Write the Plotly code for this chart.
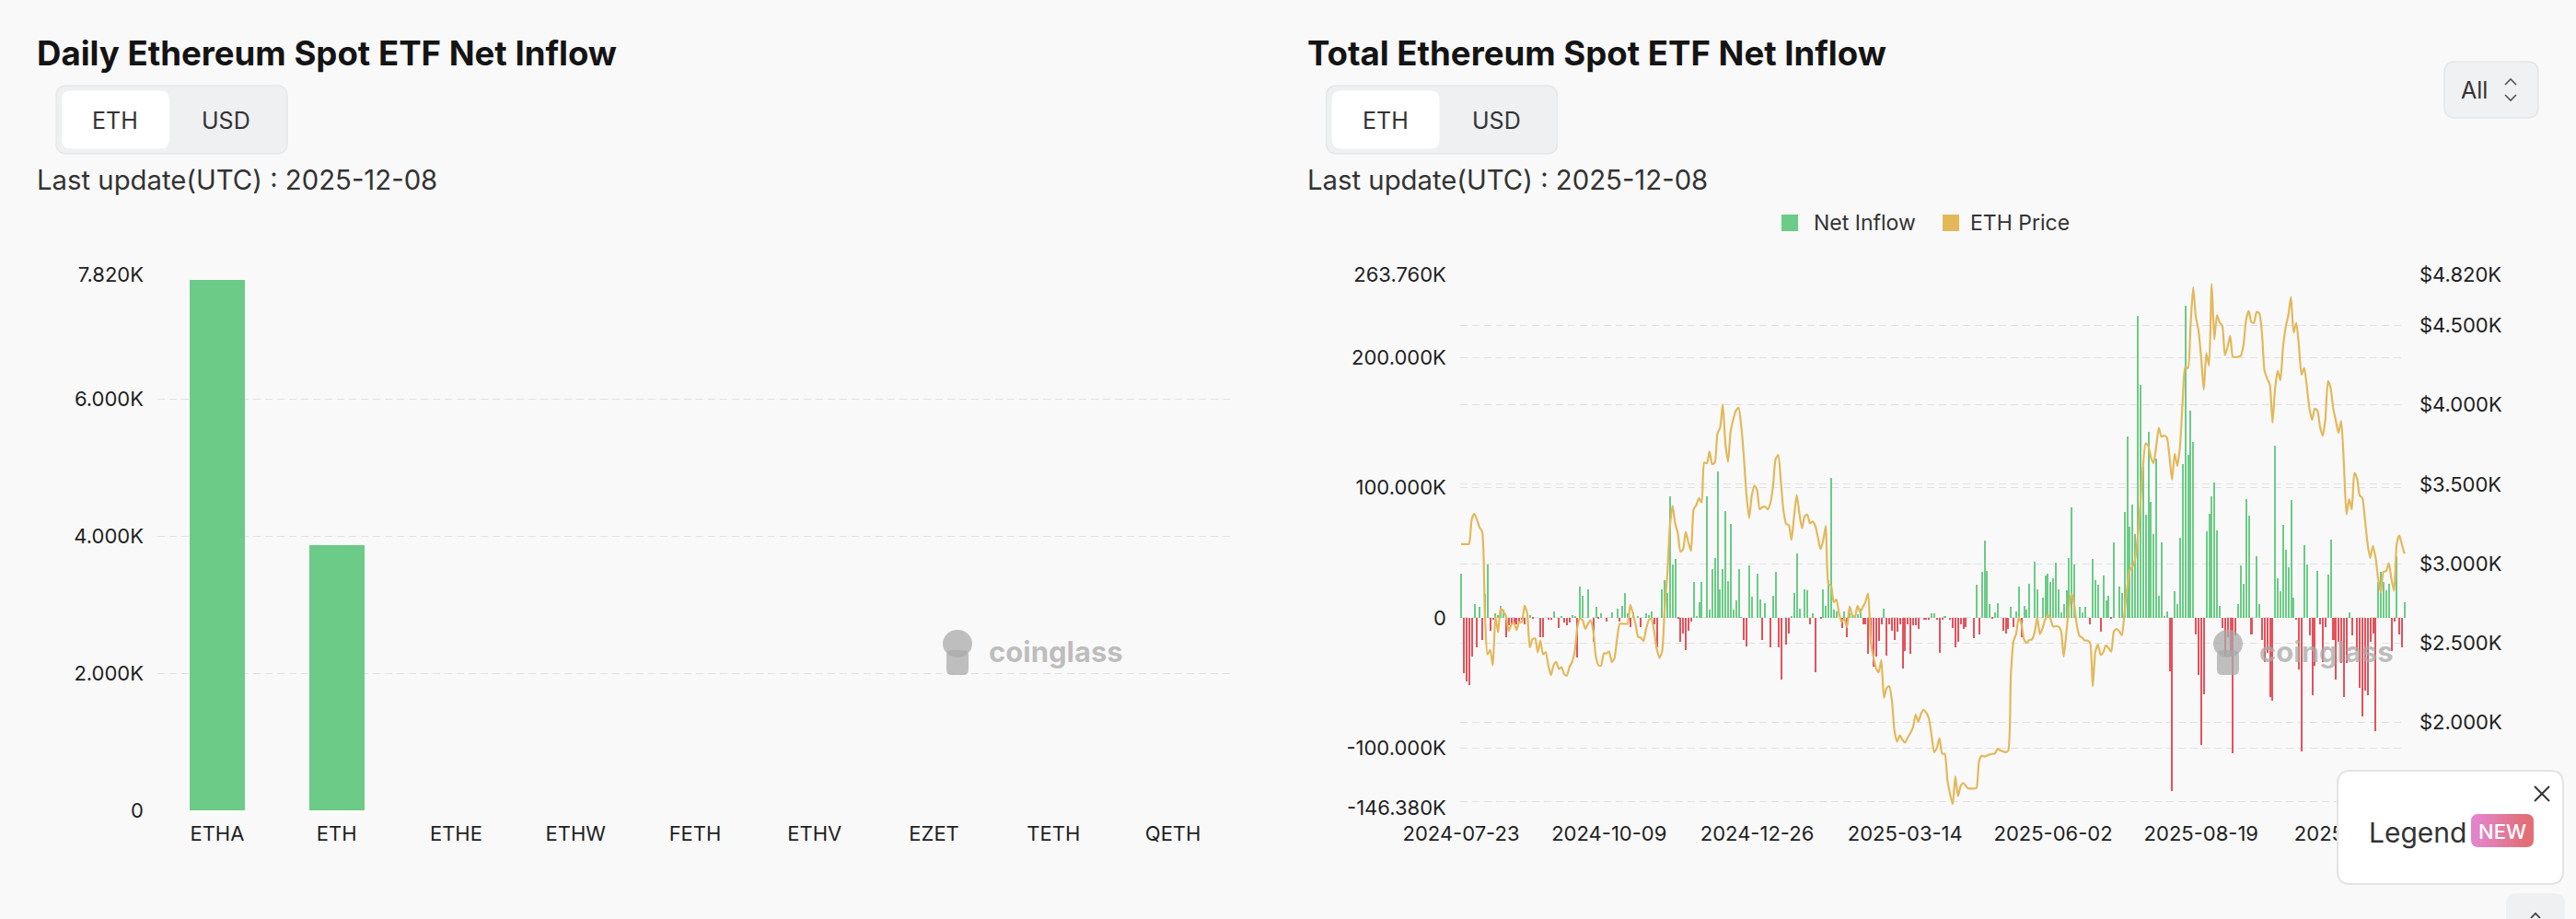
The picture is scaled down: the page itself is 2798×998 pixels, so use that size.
import plotly.graph_objects as go
import pandas as pd

W, H = 2798, 998

def X(px):
    return px / W

def Y(py):
    return 1 - py / H

# ---------------- data ----------------
etf_tickers = ["ETHA", "ETH", "ETHE", "ETHW", "FETH", "ETHV", "EZET", "TETH", "QETH"]
daily_inflow_eth = [7743, 3871, 0, 0, 0, 0, 0, 0, 0]
daily_tickvals = [0, 2000, 4000, 6000, 7820]
daily_ticktext = ["0", "2.000K", "4.000K", "6.000K", "7.820K"]

# total net inflow per trading day, thousands of ETH
net_inflow_keth = [
    34, -43, -49, -52, -30, 10, -23, 8, -17, 18,
    41, -10, -2, 3, 2, 9, 6, -15, -6, -5,
    -5, -5, -3, -2, -5, 0, 2, -0.5, 0, 0,
    -15, -15, 0, -2, -2, 5, 0, -8, 1, -4,
    -6, -4, 2, 1, -31, 24, 17, 0, 22, 0,
    -19, 8, -1, 3, 0, -3, 0, 4, 0, 7,
    -3, 9, 19, 3, -7, 4, 0, 1, -7, 0,
    3, 2, 5, -5, -23, 0, 22, 29, 19, 93,
    41, 45, -1, -19, -12, -25, -10, -3, 27, 0.5,
    12, 27, 0, 93, 6, 37, 46, 112, 22, 37,
    82, 28, 72, 6, 13, 37, 0.3, -17, -22, 40,
    16, 0, 34, 14, -17, 11, 0, -23, 17, 35,
    -23, -48, 0, -21, -12, 0.5, 19, 49, 7, 0,
    22, 21, -5, 3, -42, 0, -1, 22, 9, 29,
    107, 6, 5, 0, -8, 5, -15, 3, 2, 2,
    2.5, 7, -5, -5, -28, -19, -38, -30, -18, -5,
    7, -29, -5, -10, -17, -11, -5, -39, -26, -5,
    -28, -6, -6, -9, 0, -2, -2, -1.5, 3, 3.5,
    -2, -27, -2, 1, 0, -2, -8, -23, -19, -5,
    -9, -7, 0, 0, -16, 25, -13, 35, 59, 36,
    10, -1, 4, 11, 0, -10, -12, -9, 8, -7,
    5, 24, -15, 9, 6, 26, 0, 43, 22, 0,
    15, 32, 34, 27, 30, 42, 22, 4, 10, 21,
    46, 85, 41, 0, 8, 4, 8, 0, -5, 45,
    29, 25, -11, 32, 13, 17, -1, 58, 0, 24,
    19, 81, 139, 70, 87, 64, 232, 179, 116, 79,
    143, 89, 64, 122, 17, 58, 1, 5, -41, -133.07,
    20, 10, 61, 118, 239.78, 125, 159, 135, -13, -44,
    -98, -59, 66, 80, 93, 104, 67, 9, -8, -30,
    -15, -30, -104, -14, 10, 40, 26, 91, 78, -13,
    0, 47, 10, -17, -34, -27, -61, -64, 132, 30,
    20, 71, 52, 39, 90, 15, -2, -40, -103, 56,
    41, -14, -60, -37, 36, -5, -34, -7, 33, 60,
    -17, -48, -19, -35, -61, -35, 4, -14, 0, -26,
    -54, -76, -56, -60, -19, -12, -87, 27, 35, 27,
    21, 26, -26, -3, 47, -13, -23, 12,
]

# ETH price (USD) per trading day
eth_price_usd = [
    3124, 3124, 3124, 3124, 3277, 3316, 3277, 3229, 3201, 2688,
    2430, 2458, 2360, 2666, 2568, 2720, 2699, 2670, 2578, 2616,
    2627, 2583, 2633, 2633, 2736, 2688, 2474, 2524, 2530, 2443,
    2517, 2430, 2443, 2360, 2299, 2360, 2382, 2338, 2349, 2305,
    2295, 2349, 2382, 2447, 2600, 2655, 2644, 2589, 2622, 2644,
    2578, 2415, 2360, 2360, 2436, 2436, 2447, 2382, 2404, 2524,
    2622, 2622, 2622, 2622, 2742, 2688, 2622, 2539, 2535, 2513,
    2589, 2644, 2655, 2578, 2469, 2408, 2443, 2709, 2928, 3234,
    3364, 3255, 3194, 3076, 3092, 3201, 3135, 3081, 3343, 3369,
    3412, 3386, 3637, 3633, 3707, 3626, 3637, 3819, 3856, 4004,
    3758, 3642, 3834, 3910, 3965, 3982, 3867, 3670, 3430, 3288,
    3430, 3491, 3463, 3343, 3356, 3360, 3343, 3380, 3485, 3659,
    3685, 3517, 3332, 3251, 3244, 3150, 3299, 3434, 3316, 3223,
    3299, 3310, 3255, 3266, 3238, 3168, 3092, 3146, 3238, 2873,
    2862, 2758, 2775, 2688, 2633, 2655, 2600, 2731, 2677, 2666,
    2736, 2694, 2727, 2760, 2814, 2513, 2415, 2343, 2317, 2393,
    2157, 2218, 2229, 2142, 1945, 1880, 1919, 1891, 1875, 1906,
    1934, 1971, 2050, 2006, 2055, 2081, 2063, 2026, 1923, 1814,
    1840, 1902, 1805, 1803, 1640, 1552, 1487, 1661, 1537, 1600,
    1620, 1600, 1585, 1585, 1585, 1589, 1760, 1792, 1786, 1792,
    1799, 1803, 1805, 1836, 1825, 1819, 1814, 1823, 2295, 2513,
    2557, 2661, 2622, 2524, 2502, 2520, 2524, 2568, 2661, 2557,
    2594, 2648, 2679, 2655, 2605, 2607, 2605, 2578, 2415, 2561,
    2731, 2814, 2742, 2611, 2546, 2535, 2517, 2517, 2502, 2229,
    2447, 2491, 2426, 2443, 2487, 2469, 2447, 2574, 2589, 2576,
    2548, 2688, 2845, 2958, 2980, 3026, 3168, 3375, 3609, 3758,
    3742, 3670, 3633, 3736, 3856, 3801, 3806, 3797, 3681, 3528,
    3692, 3616, 3736, 4018, 4238, 4231, 4500, 4740, 4554, 4469,
    4303, 4096, 4325, 4249, 4762, 4412, 4565, 4520, 4500, 4314,
    4364, 4434, 4303, 4301, 4303, 4310, 4373, 4533, 4592, 4522,
    4517, 4585, 4578, 4456, 4216, 4166, 4129, 3889, 4107, 4216,
    4155, 4364, 4489, 4565, 4681, 4456, 4517, 4373, 4190, 4233,
    4118, 3976, 3906, 3976, 3965, 3862, 3806, 3910, 4150, 4107,
    3976, 3899, 3823, 3899, 3637, 3310, 3408, 3343, 3572, 3539,
    3430, 3415, 3277, 3124, 3037, 3113, 3041, 2906, 2819, 2950,
    2954, 3004, 2906, 2830, 3124, 3179, 3120, 3063,
]

first_trading_day = "2024-07-23"
date_tick_labels = ["2024-07-23", "2024-10-09", "2024-12-26", "2025-03-14",
                    "2025-06-02", "2025-08-19", "2025-11-05"]
inflow_tickvals = [-146380, -100000, 0, 100000, 200000, 263760]
inflow_ticktext = ["-146.380K", "-100.000K", "0", "100.000K", "200.000K", "263.760K"]
price_tickvals = [1500, 2000, 2500, 3000, 3500, 4000, 4500, 4820]
price_ticktext = ["$1.500K", "$2.000K", "$2.500K", "$3.000K", "$3.500K",
                  "$4.000K", "$4.500K", "$4.820K"]

# ---------------- styling ----------------
BG = "#f9f9f9"
GREEN = "#6ccb86"
RED = "#e4525c"
GOLD = "#e3b85a"
GRID = "#e1e1e1"
TXT = "#333333"
TICK = "#1f1f1f"
FONT = "Inter"

dates = pd.bdate_range(first_trading_day, periods=len(net_inflow_keth)).strftime("%Y-%m-%d").tolist()
net_inflow_eth = [v * 1000 for v in net_inflow_keth]
bar_colors = [GREEN if v >= 0 else RED for v in net_inflow_eth]

fig = go.Figure()
fig.add_trace(go.Bar(x=etf_tickers, y=daily_inflow_eth, marker_color=GREEN,
                     marker_line_width=0, width=0.46, xaxis="x", yaxis="y",
                     name="Daily"))
fig.add_trace(go.Bar(x=dates, y=net_inflow_eth, marker_color=bar_colors,
                     marker_line_width=0, width=0.7, xaxis="x2", yaxis="y2",
                     name="Net Inflow"))
fig.add_trace(go.Scatter(x=dates, y=eth_price_usd, mode="lines",
                         line=dict(color=GOLD, width=2.2, shape="spline", smoothing=0.6),
                         xaxis="x2", yaxis="y3", name="ETH Price"))

tickfont = dict(family=FONT, size=22, color=TICK)
grid = dict(showgrid=True, gridcolor=GRID, gridwidth=1.3, griddash="8px,5px",
            zeroline=False, showline=False, ticks="", automargin=False)
nogrid = dict(showgrid=False, zeroline=False, showline=False, ticks="", automargin=False)

fig.update_layout(
    template="none",
    width=W, height=H, margin=dict(l=0, r=0, t=0, b=0, pad=0), autosize=False,
    paper_bgcolor=BG, plot_bgcolor=BG, showlegend=False, bargap=0,
    font=dict(family=FONT, color=TXT),
    xaxis=dict(domain=[X(171), X(1339)], anchor="y", type="category",
               tickfont=tickfont, ticklabelstandoff=10, **nogrid),
    yaxis=dict(domain=[Y(880), Y(298.3)], anchor="x", range=[0, 7820],
               tickvals=daily_tickvals, ticktext=daily_ticktext,
               tickfont=tickfont, ticklabelstandoff=14, **grid),
    xaxis2=dict(domain=[X(1585.85), X(2613.0)], anchor="y2", type="category",
                range=[-0.4, len(dates) - 0.6],
                tickvals=date_tick_labels, ticktext=date_tick_labels,
                tickfont=tickfont, ticklabelstandoff=12, tickangle=0, **nogrid),
    yaxis2=dict(domain=[Y(877.7), Y(298.3)], anchor="x2", range=[-146380, 263760],
                tickvals=inflow_tickvals, ticktext=inflow_ticktext,
                tickfont=tickfont, ticklabelstandoff=14, **grid),
    yaxis3=dict(overlaying="y2", side="right", anchor="x2", range=[1461, 4820],
                tickvals=price_tickvals, ticktext=price_ticktext,
                tickfont=tickfont, ticklabelstandoff=14, **grid),
)

shapes = []
annotations = []


def rrect(x0, y0, x1, y1, r, fill, line_color=None, lw=0, layer="above"):
    pts = [
        ("M", [(x0 + r, y0)]), ("L", [(x1 - r, y0)]), ("Q", [(x1, y0), (x1, y0 + r)]),
        ("L", [(x1, y1 - r)]), ("Q", [(x1, y1), (x1 - r, y1)]), ("L", [(x0 + r, y1)]),
        ("Q", [(x0, y1), (x0, y1 - r)]), ("L", [(x0, y0 + r)]), ("Q", [(x0, y0), (x0 + r, y0)]),
    ]
    path = " ".join(cmd + " " + " ".join(f"{X(a):.6f},{Y(b):.6f}" for a, b in p) for cmd, p in pts) + " Z"
    shapes.append(dict(type="path", path=path, xref="paper", yref="paper",
                       fillcolor=fill, line=dict(color=line_color or fill, width=lw),
                       layer=layer))


def polyline(points, color, width):
    path = "M " + " L ".join(f"{X(a):.6f},{Y(b):.6f}" for a, b in points)
    shapes.append(dict(type="path", path=path, xref="paper", yref="paper",
                       line=dict(color=color, width=width), layer="above"))


def box(x0, y0, x1, y1, fill):
    shapes.append(dict(type="rect", x0=X(x0), x1=X(x1), y0=Y(y1), y1=Y(y0),
                       xref="paper", yref="paper", fillcolor=fill,
                       line=dict(width=0), layer="above"))


def text(x, y, s, size, color=TXT, xanchor="left", weight=400, family=FONT):
    annotations.append(dict(x=X(x), y=Y(y), xref="paper", yref="paper", text=s,
                            showarrow=False, xanchor=xanchor, yanchor="middle",
                            font=dict(family=family, size=size, color=color, weight=weight)))


# headers of both panels
for x0, title in [(40, "Daily Ethereum Spot ETF Net Inflow"),
                  (1419.6, "Total Ethereum Spot ETF Net Inflow")]:
    text(x0 - 2, 58, title, 36.6, "#141414", weight=700)
    rrect(x0 + 21, 93, x0 + 272, 167, 12, "#eef0f2", "#e5e7ea", 1.5)
    rrect(x0 + 27, 98.5, x0 + 144, 161.5, 10, "#ffffff")
    text(x0 + 85, 131, "ETH", 25, xanchor="center")
    text(x0 + 206, 131, "USD", 25, xanchor="center")
    text(x0 - 2, 195, "Last update(UTC) : 2025-12-08", 29.3)

# "All" selector
rrect(2655, 67, 2757, 128, 12, "#f0f1f3", "#e3e5e8", 1.5)
text(2671, 98, "All", 25)
polyline([(2721, 92), (2727, 86), (2733, 92)], "#555555", 1.6)
polyline([(2721, 103), (2727, 109), (2733, 103)], "#555555", 1.6)

# legend of total chart
box(1935, 233, 1953, 251, GREEN)
text(1968, 242, "Net Inflow", 23)
box(2110, 233, 2128, 251, GOLD)
text(2138, 242, "ETH Price", 23)

# coinglass watermarks
for wx in (1018, 2398):
    shapes.append(dict(type="circle", x0=X(wx + 6), x1=X(wx + 38), y0=Y(714), y1=Y(684),
                       xref="paper", yref="paper", fillcolor="rgba(170,170,170,0.75)",
                       line=dict(width=0), layer="above"))
    rrect(wx + 10, 706, wx + 34, 733, 6, "rgba(170,170,170,0.75)")
    text(wx + 54, 707, "coinglass", 31, "rgba(170,170,170,0.75)", weight=700)

# "Legend NEW" popup
rrect(2539, 837, 2784, 960, 14, "#ffffff", "#e3e3e3", 2)
polyline([(2753, 854), (2769, 870)], "#333333", 2)
polyline([(2753, 870), (2769, 854)], "#333333", 2)
text(2571, 904, "Legend", 30)

# NEW badge with a pink-to-coral gradient
c0, c1 = (227, 132, 200), (226, 110, 118)
rrect(2684, 884, 2704, 920, 8, "rgb(227,132,200)")
rrect(2732, 884, 2752, 920, 8, "rgb(226,110,118)")
n_strips = 12
x_left, x_right = 2692, 2744
for i in range(n_strips):
    t = (i + 0.5) / n_strips
    col = "rgb(%d,%d,%d)" % tuple(round(a + (b - a) * t) for a, b in zip(c0, c1))
    sw = (x_right - x_left) / n_strips
    box(x_left + i * sw, 884, x_left + (i + 1) * sw + 0.6, 920, col)
text(2718, 903, "NEW", 22, "#ffffff", xanchor="center", weight=500)

# corner button
rrect(2722, 970, 2786, 1040, 12, "#eff0f2")
polyline([(2749, 997), (2754, 992), (2759, 997)], "#333333", 1.6)

fig.update_layout(shapes=shapes, annotations=annotations)

fig.write_html("out.html", config={"displayModeBar": False},
               post_script="document.body.style.margin='0';document.body.style.overflow='hidden';")
